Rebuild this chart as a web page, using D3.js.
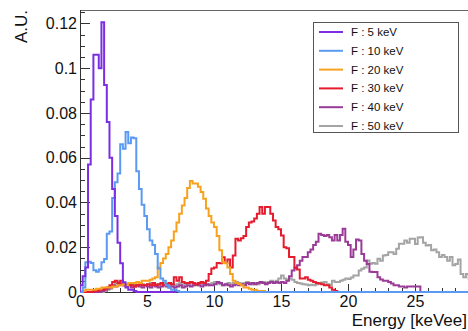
<!DOCTYPE html>
<html>
<head>
<meta charset="utf-8">
<script src="https://cdn.jsdelivr.net/npm/d3@7"></script>
<style>
  html, body { margin: 0; padding: 0; background: #fff; }
  svg { display: block; }
  text { font-family: "Liberation Sans", Arial, Helvetica, sans-serif; fill: #111; }
</style>
</head>
<body>
<svg id="chart" width="468" height="331"></svg>
<script>
// ---------------- DATA ----------------
const binWidth = 0.2; // keV per bin, bins start at 0 keV
const seriesLabels = ["F : 5 keV", "F : 10 keV", "F : 20 keV", "F : 30 keV", "F : 40 keV", "F : 50 keV"];
const seriesColors = ["#7b2fe0", "#5b9af2", "#f6a21f", "#e61b2e", "#9a3b98", "#a4a4a4"];
const histRangeEnd = [7.2, 30, 30, 30, 30, 30];

const hist5 = [
  0.003,0.007,0.011,0.057,0.086,0.106,0.106,0.100,0.1205,0.0925,
  0.076,0.060,0.046,0.034,0.022,0.0128,0.0044,0.002,0.001,0.001,
  0.0005,0,0,0,0,0,0,0,0,0,
  0,0,0,0,0,0
];
const hist10 = [
  0,0.002,0.0133,0.0135,0.013,0.0097,0.009,0.010,0.0133,0.0148,
  0.026,0.027,0.042,0.049,0.053,0.066,0.064,0.0715,0.0665,0.069,
  0.0687,0.054,0.046,0.039,0.034,0.028,0.023,0.021,0.017,0.0105,
  0.006,0.005,0.003,0.002,0.001,0.001,0.0005,0,0,0
];
const hist20 = [
  0,0.0005,0.001,0.001,0.001,0.001,0.0015,0.0015,0.002,0.002,
  0.002,0.002,0.0025,0.0025,0.003,0.003,0.0035,0.003,0.004,0.004,
  0.004,0.0045,0.004,0.005,0.005,0.005,0.0055,0.006,0.0066,0.011,
  0.013,0.015,0.017,0.020,0.023,0.027,0.031,0.035,0.0387,0.042,
  0.0465,0.0496,0.0485,0.0485,0.047,0.0447,0.0417,0.0373,0.034,0.031,
  0.029,0.025,0.0186,0.0133,0.0128,0.011,0.008,0.005,0.004,0.0036,
  0.003,0.002,0.002,0.0015,0.001,0.001,0.0005,0.0005,0.0005,0
];
const hist30 = [
  0,0,0,0,0,0.0005,0.0005,0.001,0.001,0.0015,
  0.002,0.003,0.0045,0.005,0.004,0.005,0.003,0.003,0.0035,0.003,
  0.0025,0.003,0.0035,0.003,0.003,0.0035,0.003,0.004,0.003,0.0035,
  0.004,0.003,0.0035,0.004,0.0035,0.0066,0.005,0.0066,0.0045,0.004,
  0.004,0.0045,0.004,0.0035,0.004,0.0045,0.004,0.005,0.008,0.0105,
  0.011,0.013,0.0128,0.0155,0.013,0.0145,0.011,0.0163,0.0238,0.023,
  0.024,0.025,0.029,0.031,0.0315,0.0328,0.035,0.038,0.035,0.038,
  0.038,0.035,0.032,0.029,0.028,0.0253,0.020,0.0195,0.0156,0.0156,
  0.011,0.010,0.006,0.006,0.0066,0.0055,0.005,0.0045,0.004,0.0038,
  0.0035,0.003,0.003,0.002,0.001,0.0005,0,0,0,0
];
const hist40 = [
  0,0,0,0,0,0,0,0,0.0005,0.001,
  0.0015,0.002,0.003,0.0025,0.003,0.0035,0.003,0.0025,0.003,0.002,
  0.0025,0.003,0.0025,0.002,0.003,0.0025,0.002,0.003,0.0025,0.002,
  0.0025,0.003,0.0025,0.002,0.0025,0.002,0.0025,0.003,0.002,0.0025,
  0.003,0.0025,0.003,0.0035,0.003,0.0025,0.003,0.0035,0.003,0.003,
  0.0035,0.0045,0.004,0.003,0.0035,0.003,0.0025,0.003,0.0035,0.003,
  0.0035,0.003,0.004,0.0035,0.004,0.0035,0.004,0.0045,0.004,0.0035,
  0.004,0.0045,0.004,0.0045,0.004,0.0045,0.004,0.005,0.007,0.0096,
  0.0105,0.012,0.014,0.0156,0.0156,0.0178,0.019,0.021,0.0225,0.026,
  0.0255,0.025,0.0255,0.0245,0.023,0.0255,0.023,0.0255,0.0283,0.0225,
  0.021,0.0156,0.019,0.0235,0.023,0.017,0.014,0.0125,0.009,0.0089,
  0.0089,0.0066,0.0056,0.005,0.005,0.0045,0.0038,0.003,0.003,0.0025,
  0.0025,0.002,0.0025,0.0025,0.0025,0.0025,0.0025,0,0,0
];
const hist50 = [
  0,0,0,0,0,0,0,0,0,0.0005,
  0.001,0.0015,0.003,0.004,0.0045,0.004,0.0035,0.003,0.0035,0.003,
  0.0035,0.003,0.004,0.0035,0.003,0.0035,0.004,0.003,0.0035,0.003,
  0.0035,0.004,0.0035,0.003,0.0035,0.003,0.0035,0.004,0.003,0.0035,
  0.004,0.0045,0.0035,0.003,0.0035,0.004,0.0035,0.003,0.0035,0.004,
  0.0045,0.004,0.0035,0.003,0.0035,0.004,0.0035,0.004,0.0045,0.004,
  0.0035,0.004,0.0045,0.004,0.0035,0.004,0.0035,0.004,0.0045,0.004,
  0.0045,0.005,0.0045,0.005,0.006,0.0074,0.006,0.0055,0.006,0.0055,
  0.0045,0.004,0.0038,0.0035,0.0034,0.003,0.0032,0.003,0.0035,0.004,
  0.0042,0.0045,0.0035,0.003,0.005,0.0045,0.0045,0.005,0.0055,0.006,
  0.0058,0.0065,0.0074,0.0074,0.0096,0.0104,0.011,0.0141,0.0126,0.013,
  0.0126,0.0149,0.014,0.0163,0.0165,0.0178,0.0178,0.017,0.0193,0.0216,
  0.0216,0.023,0.022,0.0238,0.0238,0.0215,0.0243,0.0245,0.022,0.0208,
  0.021,0.0186,0.019,0.0178,0.0156,0.0165,0.0156,0.014,0.0156,0.012,
  0.0125,0.0145,0.008,0.0066,0.008,0.006,0.005,0.004,0.003,0.002
];

const xTickValues = [0, 5, 10, 15, 20, 25];
const xTickLabels = ["0", "5", "10", "15", "20", "25"];
const yTickValues = [0, 0.02, 0.04, 0.06, 0.08, 0.1, 0.12];
const yTickLabels = ["0", "0.02", "0.04", "0.06", "0.08", "0.1", "0.12"];
const xDomain = [0, 30];
const yDomain = [0, 0.126];
const xTitle = "Energy [keVee]";
const yTitle = "A.U.";

// ---------------- LAYOUT ----------------
const W = 468, H = 331;
const mL = 80, mR = 482, mT = 10, mB = 292;

const svg = d3.select("#chart");
svg.append("rect").attr("width", W).attr("height", H).attr("fill", "#fff");

const x = d3.scaleLinear().domain(xDomain).range([mL, mR]);
const y = d3.scaleLinear().domain(yDomain).range([mB, mT]);

svg.append("defs").append("clipPath").attr("id", "plotclip")
  .append("rect").attr("x", mL).attr("y", mT - 1).attr("width", mR - mL).attr("height", mB - mT + 3);

// frame top line
svg.append("line").attr("x1", mL).attr("x2", mR).attr("y1", mT + 0.5).attr("y2", mT + 0.5)
  .attr("stroke", "#666").attr("stroke-width", 1);

// Y axis
const yAxis = d3.axisLeft(y)
  .tickValues(yTickValues)
  .tickFormat((d, i) => yTickLabels[i])
  .tickSize(0)
  .tickPadding(3);
const gy = svg.append("g").attr("transform", `translate(${mL},0)`).call(yAxis);
gy.select(".domain").remove();
gy.selectAll("text").style("font-size", "16px").attr("fill", "#111")
  .style("font-family", '"Liberation Sans", Arial, sans-serif');

const yMinor = d3.range(0, 0.1251, 0.005);
svg.append("g").selectAll("line").data(yMinor).join("line")
  .attr("x1", mL).attr("x2", (d) => mL + (Math.abs(Math.round(d / 0.02) * 0.02 - d) < 1e-9 ? 10 : 5))
  .attr("y1", (d) => Math.round(y(d)) + 0.5).attr("y2", (d) => Math.round(y(d)) + 0.5)
  .attr("stroke", "#333").attr("stroke-width", 1);

// X axis
const xAxis = d3.axisBottom(x)
  .tickValues(xTickValues)
  .tickFormat((d, i) => xTickLabels[i])
  .tickSize(0)
  .tickPadding(4);
const gx = svg.append("g").attr("transform", `translate(0,${mB})`).call(xAxis);
gx.select(".domain").remove();
gx.selectAll("text").style("font-size", "16px").attr("fill", "#111")
  .style("font-family", '"Liberation Sans", Arial, sans-serif');

const xMinor = d3.range(0, 30.01, 1);
svg.append("g").selectAll("line").data(xMinor).join("line")
  .attr("x1", (d) => Math.round(x(d)) + 0.5).attr("x2", (d) => Math.round(x(d)) + 0.5)
  .attr("y1", mB).attr("y2", (d) => mB - (d % 5 === 0 ? 8 : 4))
  .attr("stroke", "#333").attr("stroke-width", 1);

// axis lines
svg.append("line").attr("x1", mL + 0.5).attr("x2", mL + 0.5).attr("y1", mT).attr("y2", mB + 1)
  .attr("stroke", "#333").attr("stroke-width", 1);
svg.append("line").attr("x1", mL).attr("x2", mR).attr("y1", mB + 0.5).attr("y2", mB + 0.5)
  .attr("stroke", "#333").attr("stroke-width", 1);

// ---------------- HISTOGRAMS ----------------
const hists = [hist5, hist10, hist20, hist30, hist40, hist50];
const line = d3.line().x((d) => x(d[0])).y((d) => y(d[1])).curve(d3.curveLinear);

function histPoints(vals, end) {
  const pts = [[0, 0]];
  vals.forEach((v, i) => {
    pts.push([i * binWidth, v]);
    pts.push([(i + 1) * binWidth, v]);
  });
  pts.push([vals.length * binWidth, 0]);
  pts.push([end, 0]);
  return pts;
}

const plot = svg.append("g").attr("clip-path", "url(#plotclip)");
const drawOrder = [5, 4, 3, 2, 1, 0];
drawOrder.forEach((k) => {
  plot.append("path")
    .attr("d", line(histPoints(hists[k], histRangeEnd[k])))
    .attr("fill", "none")
    .attr("stroke", seriesColors[k])
    .attr("stroke-width", 2)
    .attr("stroke-linejoin", "miter");
});

// ---------------- TITLES ----------------
svg.append("text").attr("x", 467).attr("y", 326).attr("text-anchor", "end")
  .style("font-size", "17px").text(xTitle);
svg.append("text").attr("transform", "translate(27,10) rotate(-90)").attr("text-anchor", "end")
  .style("font-size", "17px").text(yTitle);

// ---------------- LEGEND ----------------
const lg = svg.append("g");
lg.append("rect").attr("x", 313.5).attr("y", 22.5).attr("width", 145).attr("height", 110)
  .attr("fill", "#fff").attr("stroke", "#555").attr("stroke-width", 1);
seriesLabels.forEach((lab, i) => {
  const yy = 32 + i * 18.8;
  lg.append("line").attr("x1", 319).attr("x2", 343).attr("y1", yy).attr("y2", yy)
    .attr("stroke", seriesColors[i]).attr("stroke-width", 2);
  lg.append("text").attr("x", 351).attr("y", yy).attr("dy", "0.35em")
    .style("font-size", "11.5px").text(lab);
});
</script>
</body>
</html>
